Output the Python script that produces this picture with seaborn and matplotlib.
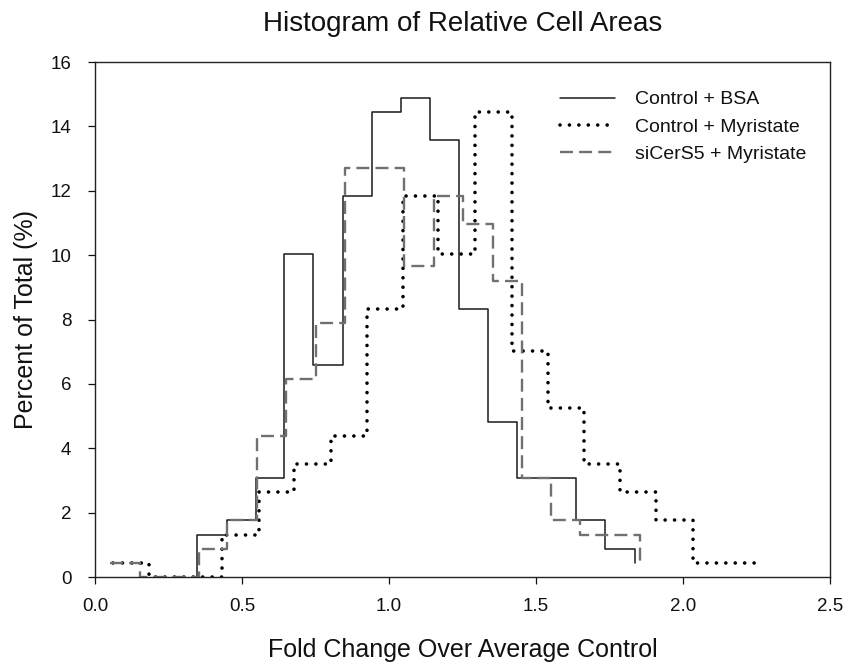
import matplotlib
matplotlib.use("Agg")
import matplotlib.pyplot as plt
import seaborn as sns
import pandas as pd

# step points (left bin edge, percent); the last point closes the final step
bsa_x = [0.348, 0.348, 0.448, 0.548, 0.644, 0.743, 0.842, 0.943, 1.04, 1.14,
         1.239, 1.338, 1.436, 1.537, 1.636, 1.735, 1.837]
bsa_y = [0.0, 1.32, 1.76, 3.07, 10.04, 6.58, 11.84, 14.45, 14.88, 13.58,
         8.33, 4.82, 3.07, 3.07, 1.76, 0.88, 0.44]

myr_x = [0.06, 0.185, 0.308, 0.431, 0.556, 0.677, 0.802, 0.924, 1.049, 1.168,
         1.293, 1.417, 1.54, 1.663, 1.786, 1.908, 2.033, 2.156, 2.268]
myr_y = [0.44, 0.0, 0.0, 1.32, 2.63, 3.51, 4.39, 8.33, 11.84, 10.04,
         14.45, 7.02, 5.26, 3.51, 2.63, 1.76, 0.44, 0.44, 0.44]

sic_x = [0.05, 0.153, 0.252, 0.352, 0.448, 0.55, 0.65, 0.752, 0.85, 0.95,
         1.051, 1.153, 1.253, 1.353, 1.451, 1.551, 1.65, 1.75, 1.854]
sic_y = [0.44, 0.0, 0.0, 0.88, 1.76, 4.39, 6.14, 7.89, 12.72, 12.72,
         9.65, 11.84, 10.96, 9.21, 3.07, 1.76, 1.32, 1.32, 0.44]

nazvy = ["Control + BSA", "Control + Myristate", "siCerS5 + Myristate"]

sns.set_theme(style="ticks")
plt.rcParams['font.family'] = ['Liberation Sans', 'DejaVu Sans']
plt.rcParams['axes.linewidth'] = 1.0
plt.rcParams['text.color'] = '#111111'
plt.rcParams['axes.labelcolor'] = '#111111'

fig = plt.figure(figsize=(8.47, 6.64), dpi=100)
ax = fig.add_axes([0.1122, 0.131, 0.8678, 0.7756])

styly = [
    dict(color="#1a1a1a", linewidth=1.1, linestyle="-"),
    dict(color="black", linewidth=2.6, linestyle=(0, (0.01, 2.6)), dash_capstyle="round"),
    dict(color="#707070", linewidth=1.7, linestyle=(0, (5.5, 2.6))),
]
for nazev, xs, ys, st in zip(nazvy, [bsa_x, myr_x, sic_x], [bsa_y, myr_y, sic_y], styly):
    df = pd.DataFrame({"x": xs, "y": ys})
    sns.lineplot(data=df, x="x", y="y", ax=ax, sort=False, estimator=None,
                 drawstyle="steps-post", label=nazev, **st)

ax.set_xlim(0, 2.5)
ax.set_ylim(0, 16)
ax.set_xticks([0.0, 0.5, 1.0, 1.5, 2.0, 2.5])
ax.set_xticklabels(["0.0", "0.5", "1.0", "1.5", "2.0", "2.5"])
ax.set_yticks(range(0, 17, 2))
ax.tick_params(axis="both", direction="out", length=5, width=0.9, labelsize=13.5,
               colors="#111111")
ax.tick_params(axis="y", pad=12)
ax.tick_params(axis="x", pad=10)
for s in ax.spines.values():
    s.set_visible(True)
    s.set_color("#222222")

ax.set_title("Histogram of Relative Cell Areas", fontsize=20, pad=22)
ax.set_xlabel("Fold Change Over Average Control", fontsize=18, labelpad=17)
ax.set_ylabel("Percent of Total (%)", fontsize=18, labelpad=9)

ax.legend(loc="upper right", bbox_to_anchor=(0.991, 0.978), frameon=False,
          fontsize=14, handlelength=2.85, handletextpad=1.0, labelspacing=0.49)

fig.savefig("out.png", dpi=100)
plt.close(fig)
